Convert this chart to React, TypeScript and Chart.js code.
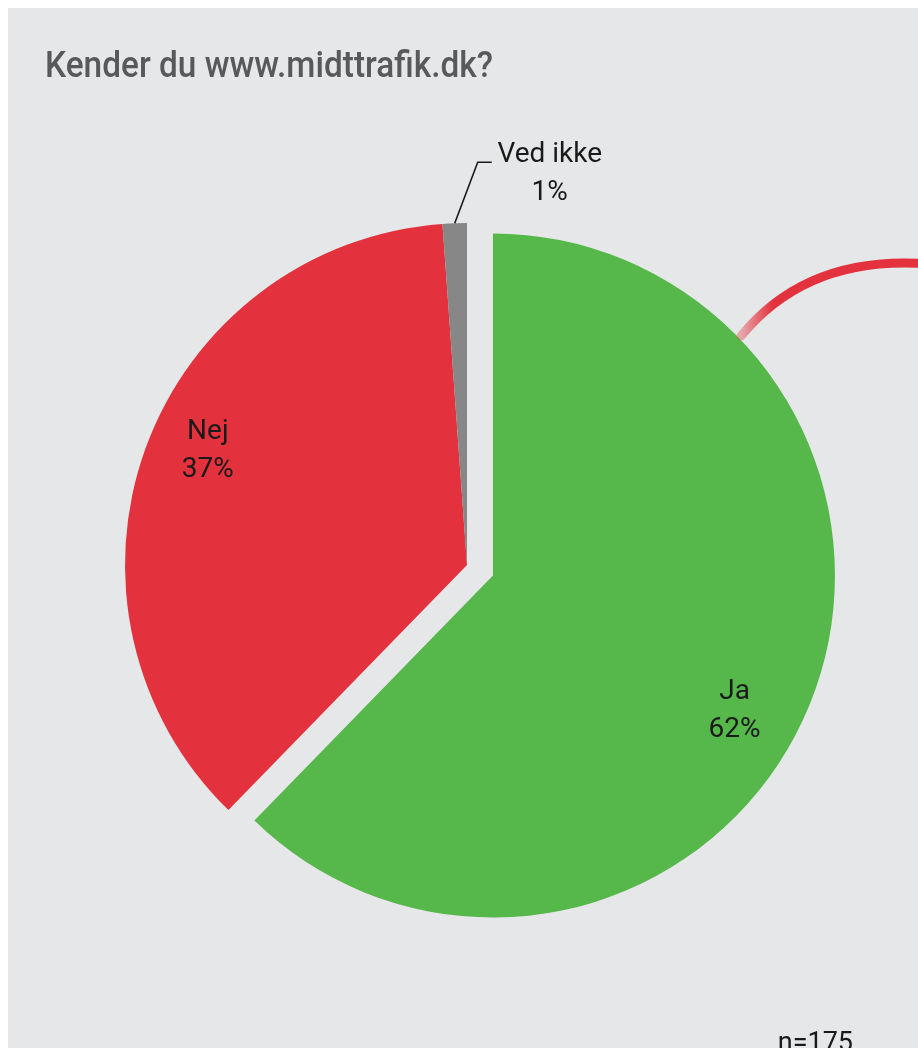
import React, { useEffect, useRef } from "react";
import { Chart, registerables } from "chart.js";

Chart.register(...registerables);

// ---- data ----
const categories = ["Ja", "Nej", "Ved ikke"];
const counts = [109, 64, 2];
const percentLabels = ["62%", "37%", "1%"];
const titleText = "Kender du www.midttrafik.dk?";
const noteText = "n=175";

// ---- style ----
const colors = ["#56b84b", "#e3313d", "#878787"];
const explode = [28, 0, 0];
const labelRadius = [0.82, 0.82, 0];
const labelShiftDeg = [8.4, 2.4, 0];
const BG = "#e6e7e8";
const W = 910;
const H = 1040;
const FONT = "Roboto, 'DejaVu Sans', sans-serif";

export default function App() {
  const ref = useRef<HTMLCanvasElement>(null);

  useEffect(() => {
    document.documentElement.style.overflow = "hidden";
    const canvas = ref.current!;

    const explodePlugin = {
      id: "explodeDraw",
      beforeDatasetDraw(chart: any, args: any) {
        const meta = chart.getDatasetMeta(args.index);
        const ctx = chart.ctx;
        meta.data.forEach((el: any, i: number) => {
          const mid = (el.startAngle + el.endAngle) / 2;
          const d = explode[i] || 0;
          ctx.save();
          ctx.translate(Math.cos(mid) * d, Math.sin(mid) * d);
          el.draw(ctx, chart.chartArea);
          ctx.restore();
        });
        return false;
      },
    };

    const decorPlugin = {
      id: "decor",
      afterDraw(chart: any) {
        const ctx = chart.ctx as CanvasRenderingContext2D;
        const meta = chart.getDatasetMeta(0);

        // title (condensed to match the reference width)
        ctx.save();
        ctx.font = `500 36px ${FONT}`;
        ctx.fillStyle = "#58595b";
        ctx.textBaseline = "alphabetic";
        ctx.textAlign = "left";
        const tw = ctx.measureText(titleText).width;
        const sx = Math.min(1, 448 / tw);
        ctx.translate(37, 69);
        ctx.scale(sx, 1);
        ctx.fillText(titleText, 0, 0);
        ctx.restore();

        // slice labels
        ctx.save();
        ctx.font = `400 28px ${FONT}`;
        ctx.fillStyle = "#1a1a1a";
        ctx.textAlign = "center";
        ctx.textBaseline = "alphabetic";
        meta.data.forEach((el: any, i: number) => {
          const midRaw = (el.startAngle + el.endAngle) / 2;
          const d = explode[i] || 0;
          const cx = el.x + Math.cos(midRaw) * d;
          const cy = el.y + Math.sin(midRaw) * d;
          if (i < 2) {
            const a = midRaw + (labelShiftDeg[i] * Math.PI) / 180;
            const r = el.outerRadius * labelRadius[i];
            const x = cx + Math.cos(a) * r;
            const y = cy + Math.sin(a) * r;
            ctx.fillText(categories[i], x, y - 19);
            ctx.fillText(percentLabels[i], x, y + 19);
          } else {
            const px = cx + Math.cos(midRaw) * el.outerRadius;
            const py = cy + Math.sin(midRaw) * el.outerRadius;
            const ex = px + 23;
            const ey = py - 61;
            ctx.beginPath();
            ctx.moveTo(px, py);
            ctx.lineTo(ex, ey);
            ctx.lineTo(ex + 14, ey);
            ctx.strokeStyle = "#1a1a1a";
            ctx.lineWidth = 1.6;
            ctx.stroke();
            ctx.fillText(categories[i], ex + 72, ey);
            ctx.fillText(percentLabels[i], ex + 72, ey + 38);
          }
        });
        ctx.restore();

        // decorative red callout arc
        ctx.save();
        const g = ctx.createLinearGradient(733, 0, 765, 0);
        g.addColorStop(0, "rgba(227,49,61,0.35)");
        g.addColorStop(1, "rgba(227,49,61,1)");
        ctx.strokeStyle = g;
        ctx.lineWidth = 9;
        ctx.lineCap = "round";
        ctx.beginPath();
        ctx.moveTo(733, 328);
        ctx.quadraticCurveTo(805, 240, 940, 258);
        ctx.stroke();
        ctx.restore();

        // sample size note
        ctx.save();
        ctx.font = `400 27px ${FONT}`;
        ctx.fillStyle = "#1a1a1a";
        ctx.textAlign = "right";
        ctx.textBaseline = "alphabetic";
        ctx.fillText(noteText, 845, 1043);
        ctx.restore();
      },
    };

    const chart = new Chart(canvas, {
      type: "pie",
      data: {
        labels: categories,
        datasets: [
          {
            data: counts,
            backgroundColor: colors,
            borderWidth: 0,
            radius: 342,
          } as any,
        ],
      },
      options: {
        animation: false,
        responsive: false,
        maintainAspectRatio: false,
        events: [],
        layout: { padding: { left: 8, right: 0, top: 74, bottom: 0 } },
        plugins: {
          legend: { display: false },
          title: { display: false },
          tooltip: { enabled: false },
        },
      },
      plugins: [explodePlugin, decorPlugin],
    });

    return () => chart.destroy();
  }, []);

  return (
    <div
      style={{
        position: "fixed",
        left: 8,
        top: 8,
        width: W,
        height: H,
        background: BG,
        overflow: "hidden",
      }}
    >
      <canvas ref={ref} width={W} height={H} style={{ display: "block", width: W, height: H }} />
    </div>
  );
}
